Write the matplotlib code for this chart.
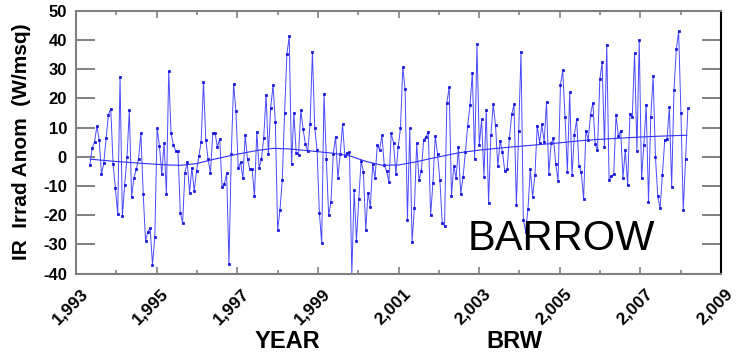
import numpy as np
import matplotlib
matplotlib.use("Agg")
import matplotlib.pyplot as plt
from matplotlib.transforms import ScaledTranslation

plt.rcParams['font.family'] = ['Liberation Sans', 'DejaVu Sans']

# IR irradiance anomaly at Barrow, 21-day means (W/m^2)
start_year = 1993.345
step_days = 21
anom = [
    -2.9, 3.1, 5.1, 10.5, 5.9, -6.0, -2.1, 6.5, 14.5, 16.5,
    -2.5, -10.8, -19.7, 27.4, -20.3, -9.6, -0.2, 16.0, -13.7, -7.2,
    -4.3, -0.6, 8.2, -12.7, -28.8, -25.6, -24.5, -37.0, -27.6, 9.8,
    3.8, -6.0, 4.8, -12.8, 29.4, 8.0, 4.1, 2.1, 1.9, -19.2,
    -22.6, -5.4, -1.9, -12.3, -3.8, -11.8, -4.9, 0.3, 5.1, 25.7,
    5.9, -0.9, -5.5, 8.0, 8.2, 3.4, 6.2, -10.3, -9.4, -5.7,
    -36.9, 1.1, 25.1, 15.8, -4.0, -1.9, -7.4, 7.4, -0.9, -4.3,
    -4.3, -13.5, 8.6, -3.8, -0.9, 6.6, 21.3, 0.9, 16.9, 24.5,
    12.0, -25.1, -18.3, -7.8, 15.1, 35.2, 41.3, -2.6, 15.1, 1.4,
    0.6, 16.0, 9.4, 4.3, 1.9, 11.4, 36.0, 10.0, 2.5, -19.1,
    -29.7, 21.7, -0.6, -20.0, -15.4, 1.1, 6.8, -7.4, 0.9, 11.1,
    0.2, 1.4, 1.5, -40.0, -11.4, -28.9, -14.6, -1.5, -5.1, -25.1,
    -12.3, -17.1, -2.5, -7.4, 4.0, 2.5, 7.4, -2.9, -4.8, -8.6,
    8.0, 4.8, -5.9, 3.4, 9.8, 30.8, 23.1, -21.7, 9.8, -29.1,
    -17.5, 4.6, -8.0, -4.8, 5.9, 6.8, 8.6, -20.0, -8.9, 7.1,
    0.9, -8.0, -22.6, -23.6, 18.5, 24.0, -13.4, -3.2, -7.2, 3.2,
    -12.8, -6.8, 1.5, 10.7, 17.7, 28.9, -0.9, 38.6, 4.0, 12.8,
    -6.8, 16.2, -15.8, 7.4, 18.0, 10.8, -3.2, 5.4, 1.7, -4.9,
    -4.3, 6.6, 14.6, 18.0, -16.6, 8.9, 36.0, -21.5, -25.7, -18.0,
    -4.3, -13.7, -6.3, 10.7, 4.8, 11.1, 5.1, 18.8, -5.9, 4.6,
    6.3, -2.5, -8.3, 24.5, 29.7, 13.5, -5.1, 22.3, -6.3, 7.4,
    12.9, -3.1, -5.1, -14.5, 8.9, 5.9, 14.5, 18.5, 4.3, 2.3,
    26.6, 32.5, 3.4, 38.5, -8.0, -6.6, -5.9, 14.3, 7.2, 8.9,
    -7.2, 2.5, -9.8, 14.8, 13.5, 35.7, 2.1, 40.0, -7.4, 4.0,
    17.9, -15.4, 13.7, 27.6, 0.0, -13.5, -17.7, -6.3, 5.7, 6.1,
    17.1, -10.3, 22.8, 36.8, 43.0, 15.1, -18.3, -0.6, 16.6,
]
years = start_year + np.arange(len(anom)) * step_days / 365.25

# smoothed trend through the anomalies
trend_years = [1993.35, 1994.0, 1994.7, 1995.3, 1995.6, 1996.0, 1996.4, 1997.0,
               1997.5, 1997.9, 1998.3, 1998.9, 1999.4, 1999.8, 2000.2, 2000.6,
               2001.0, 2001.4, 2002.0, 2002.5, 2003.0, 2003.5, 2004.0, 2004.5,
               2005.0, 2005.5, 2006.0, 2006.5, 2007.0, 2007.5, 2008.15]
trend_vals = [-0.8, -1.6, -2.3, -2.8, -2.9, -2.3, -0.9, 0.9,
              2.2, 2.9, 2.7, 1.9, 1.2, 0.3, -1.6, -2.9,
              -2.8, -1.8, 0.0, 1.4, 2.3, 3.0, 3.6, 4.2,
              4.8, 5.5, 6.0, 6.4, 6.8, 7.1, 7.4]

fig = plt.figure(figsize=(7.39, 3.61), dpi=100)
ax = fig.add_axes([76 / 739, 1 - 273.5 / 361, 645 / 739, 262.5 / 361])

ax.plot(years, anom, color='#4a4aff', lw=0.7, marker='s', ms=1.7,
        mfc='#1010d8', mec='#1010d8', mew=0.5)
ax.plot(trend_years, trend_vals, color='#3030ff', lw=0.8)

ax.text(2002.72, -32, 'BARROW', fontsize=30, ha='left', va='baseline')

ax.set_xlim(1993, 2009)
ax.set_ylim(-40, 50)
ax.set_xticks(range(1993, 2010, 2))
ax.set_xticks(range(1994, 2009, 2), minor=True)
ax.set_xticklabels([f"{y:,}" for y in range(1993, 2010, 2)],
                   rotation=45, ha='center', fontweight='bold', fontsize=12.5)
ax.set_yticks(range(-40, 51, 10))
ax.set_yticklabels([str(v) for v in range(-40, 51, 10)],
                   fontweight='bold', fontsize=12)

ax.tick_params(axis='x', which='major', direction='in', length=5.3, width=1.2,
               color='#808080', top=True, pad=9)
ax.tick_params(axis='x', which='minor', direction='in', length=3, width=1.2,
               color='#808080', top=True)
ax.tick_params(axis='y', direction='in', length=13.7, width=1.4,
               color='#808080', right=True, pad=6.5)

for lbl in ax.get_xticklabels():
    lbl.set_transform(lbl.get_transform() + ScaledTranslation(-0.06, 0, fig.dpi_scale_trans))

for side in ['left', 'top', 'bottom']:
    ax.spines[side].set_color('#808080')
    ax.spines[side].set_linewidth(1.5)
ax.spines['right'].set_color('black')
ax.spines['right'].set_linewidth(1.5)

fig.text(22 / 739, 1 - 142 / 361, 'IR  Irrad Anom  (W/msq)', rotation=90,
         ha='center', va='center', fontsize=15, fontweight='bold')
fig.text(287 / 739, 1 - 341 / 361, 'YEAR', ha='center', va='center',
         fontsize=17, fontweight='bold')
fig.text(514 / 739, 1 - 341 / 361, 'BRW', ha='center', va='center',
         fontsize=17, fontweight='bold')

fig.savefig('out.png', dpi=100)
